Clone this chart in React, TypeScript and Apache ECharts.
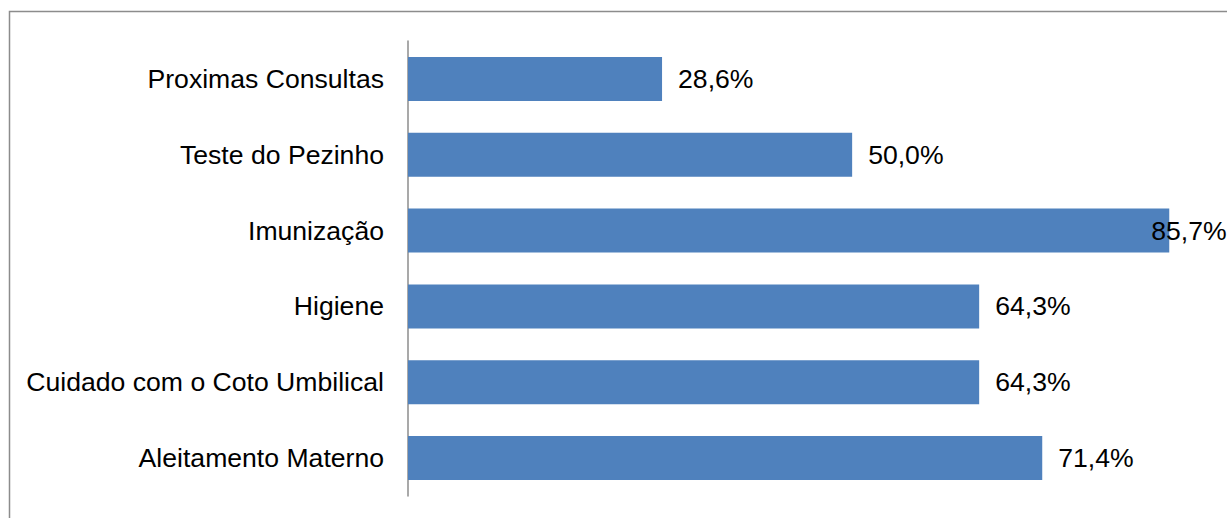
import React, { useEffect, useRef } from "react";
import * as echarts from "echarts";

const categories = [
  "Proximas Consultas",
  "Teste do Pezinho",
  "Imunização",
  "Higiene",
  "Cuidado com o Coto Umbilical",
  "Aleitamento Materno",
];
const values = [28.6, 50.0, 85.7, 64.3, 64.3, 71.4];
// visible part of the value axis (the original frame is cropped on the right)
const axisMax = 92.2;

const fmt = (v: number) => v.toFixed(1).replace(".", ",") + "%";

export default function App() {
  const ref = useRef<HTMLDivElement>(null);
  useEffect(() => {
    if (!ref.current) return;
    const chart = echarts.init(ref.current, undefined, { renderer: "svg" });
    const maxV = Math.max(...values);
    chart.setOption({
      animation: false,
      graphic: [
        {
          type: "rect",
          shape: { x: 9.5, y: 11.5, width: 1400, height: 700 },
          style: { fill: "none", stroke: "#8c8c8c", lineWidth: 1.5 },
          silent: true,
        },
      ],
      grid: { left: 408, top: 41, bottom: 22, right: 0, containLabel: false },
      xAxis: {
        type: "value",
        min: 0,
        max: axisMax,
        show: false,
      },
      yAxis: {
        type: "category",
        data: categories,
        inverse: true,
        axisLine: { show: true, lineStyle: { color: "#8c8c8c", width: 1.5 } },
        axisTick: { show: false },
        axisLabel: {
          margin: 24,
          fontSize: 26.6,
          color: "#000",
          fontFamily: "Liberation Sans, Arial, sans-serif",
        },
        splitLine: { show: false },
      },
      series: [
        {
          type: "bar",
          barWidth: 44,
          itemStyle: { color: "#4f81bd" },
          data: values.map((v) => ({
            value: v,
            label: v === maxV ? { offset: [-34, 0] } : undefined,
          })),
          label: {
            show: true,
            position: "right",
            distance: 16,
            fontSize: 26.6,
            color: "#000",
            fontFamily: "Liberation Sans, Arial, sans-serif",
            formatter: (p: any) => fmt(p.value),
          },
        },
      ],
    });
    return () => chart.dispose();
  }, []);
  return (
    <div
      ref={ref}
      style={{ position: "absolute", left: 0, top: 0, width: 1227, height: 518, background: "#fff" }}
    />
  );
}
